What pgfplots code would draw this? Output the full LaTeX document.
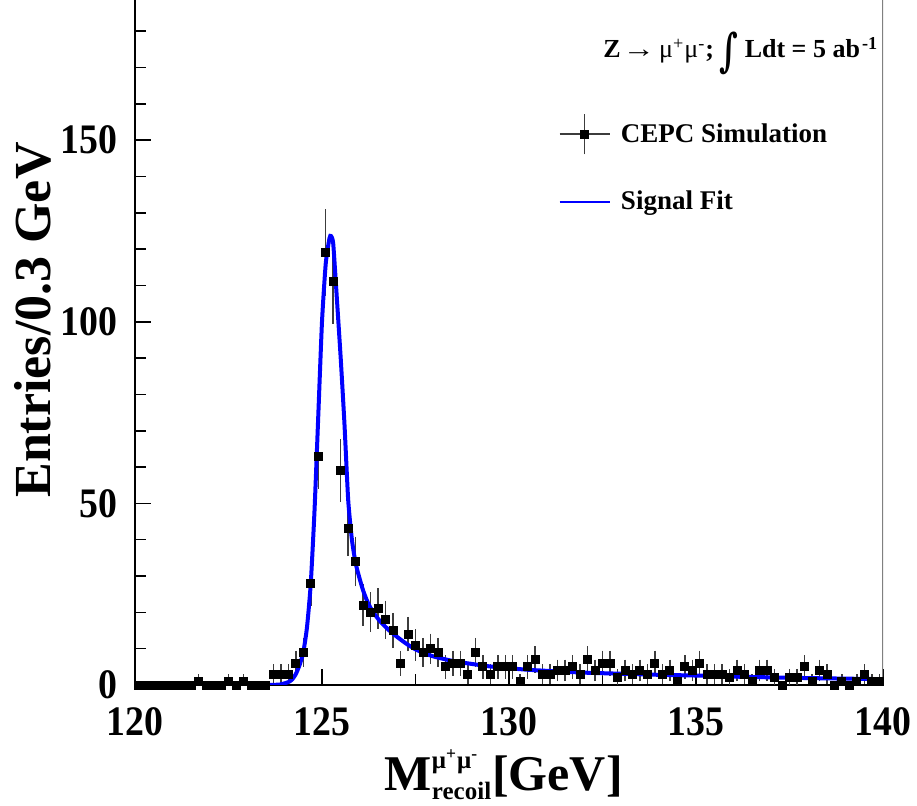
\documentclass[border=0pt]{standalone}
\usepackage{amsmath}
\usepackage{fontspec}
\setmainfont{Liberation Serif}
\newfontfamily\tickfont{Liberation Serif}[FakeStretch=0.9]
\newfontfamily\intfont{DejaVu Serif}
\usepackage{graphicx}
\usepackage{pgfplots}
\pgfplotsset{compat=1.18}
\usepackage{pgfplotstable}
\definecolor{errcol}{RGB}{60,60,60}
\definecolor{fitblue}{RGB}{0,0,255}

% 100 bins of 0.2 GeV: centre, entries, sqrt(entries)
\pgfplotstableread{
x y e
120.1 0 0
120.3 0 0
120.5 0 0
120.7 0 0
120.9 0 0
121.1 0 0
121.3 0 0
121.5 0 0
121.7 1 1
121.9 0 0
122.1 0 0
122.3 0 0
122.5 1 1
122.7 0 0
122.9 1 1
123.1 0 0
123.3 0 0
123.5 0 0
123.7 3 1.732
123.9 3 1.732
124.1 3 1.732
124.3 6 2.449
124.5 9 3
124.7 28 5.292
124.9 63 7.937
125.1 119 10.909
125.3 111 10.536
125.5 59 7.681
125.7 43 6.557
125.9 34 5.831
126.1 22 4.690
126.3 20 4.472
126.5 21 4.583
126.7 18 4.243
126.9 15 3.873
127.1 6 2.449
127.3 14 3.742
127.5 11 3.317
127.7 9 3
127.9 10 3.162
128.1 9 3
128.3 5 2.236
128.5 6 2.449
128.7 6 2.449
128.9 3 1.732
129.1 9 3
129.3 5 2.236
129.5 3 1.732
129.7 5 2.236
129.9 5 2.236
130.1 5 2.236
130.3 1 1
130.5 5 2.236
130.7 7 2.646
130.9 3 1.732
131.1 3 1.732
131.3 4 2
131.5 4 2
131.7 5 2.236
131.9 3 1.732
132.1 7 2.646
132.3 4 2
132.5 6 2.449
132.7 6 2.449
132.9 2 1.414
133.1 4 2
133.3 3 1.732
133.5 4 2
133.7 3 1.732
133.9 6 2.449
134.1 3 1.732
134.3 4 2
134.5 1 1
134.7 5 2.236
134.9 4 2
135.1 6 2.449
135.3 3 1.732
135.5 3 1.732
135.7 3 1.732
135.9 2 1.414
136.1 4 2
136.3 3 1.732
136.5 1 1
136.7 4 2
136.9 4 2
137.1 2 1.414
137.3 0 0
137.5 2 1.414
137.7 2 1.414
137.9 5 2.236
138.1 1 1
138.3 4 2
138.5 3 1.732
138.7 0 0
138.9 1 1
139.1 0 0
139.3 1 1
139.5 3 1.732
139.7 1 1
139.9 1 1
}\simdata

\pgfplotstableread{
x y
120.0 0.05
123.6 0.05
123.9 0.2
124.1 0.8
124.2 1.5
124.3 3
124.4 5.5
124.5 9
124.6 16
124.7 28
124.8 48
124.9 74
125.0 100
125.1 116
125.2 123
125.24 123.6
125.3 121.5
125.4 106
125.5 90
125.6 72
125.7 51
125.8 40
125.9 33.5
126.0 29.5
126.1 26
126.2 23.3
126.3 21.2
126.4 19.6
126.5 18.2
126.6 17.0
126.8 15.0
127.0 13.3
127.25 11.4
127.5 9.8
127.75 8.7
128.0 7.8
128.5 6.6
129.0 5.8
129.5 5.1
130.0 4.6
130.5 4.2
131.0 3.9
132.0 3.4
133.0 3.1
134.0 2.8
135.0 2.6
136.0 2.3
137.0 2.1
138.0 1.9
139.0 1.75
140.0 1.6
}\fitdata

\begin{document}
\begin{tikzpicture}
\begin{axis}[
  scale only axis,
  width=374pt, height=345.1pt,
  xmin=120, xmax=140, ymin=0, ymax=190,
  axis x line*=bottom, axis y line*=left,
  axis line style={line width=1pt, black},
  xtick={120,125,130,135,140},
  minor xtick={122.5,127.5,132.5,137.5},
  ytick={0,50,100,150},
  minor ytick={10,20,30,40,60,70,80,90,110,120,130,140,160,170,180},
  tick align=inside,
  major tick length=8pt, minor tick length=5.5pt,
  tick style={line width=0.8pt, black},
  /pgf/number format/assume math mode=true,
  ticklabel style={font=\tickfont\fontsize{21pt}{21pt}\selectfont\bfseries, inner sep=0pt},
  xticklabel style={anchor=north, yshift=-11pt},
  yticklabel style={anchor=east, xshift=-8.5pt},
  xlabel={M$^{\text{\fontsize{12.5pt}{12pt}\selectfont μ\textsuperscript{+}μ\textsuperscript{-}}}_{\text{\fontsize{12.5pt}{12pt}\selectfont recoil}}$[GeV]},
  ylabel={Entries/0.3 GeV},
  xlabel style={font=\fontsize{25pt}{25pt}\selectfont\bfseries, inner sep=0pt,
    at={(axis description cs:0.493,-0.1535)}, anchor=base},
  ylabel style={font=\fontsize{26pt}{26pt}\selectfont\bfseries, inner sep=0pt,
    at={(axis description cs:-0.113,0.5288)}, anchor=base},
  legend cell align=left,
  legend style={draw=none, fill=none, inner sep=0pt,
    at={(axis description cs:0.5655,0.8286)}, anchor=north west,
    font=\fontsize{13.5pt}{14pt}\selectfont\bfseries,
    nodes={inner sep=0pt},
    row sep=18pt,
    /tikz/every odd column/.append style={column sep=5pt}},
]
\addplot[only marks, mark=square*, mark size=2pt, black,
  legend image code/.code={
    \draw[errcol, line width=0.8pt] (0pt,0pt) -- (25pt,0pt);
    \draw[errcol, line width=0.8pt] (12.5pt,-10pt) -- (12.5pt,10pt);
    \fill[black] (10.5pt,-2pt) rectangle (14.5pt,2pt);},
  error bars/.cd, y dir=both, y explicit,
  error bar style={errcol, line width=0.75pt},
  error mark options={errcol, line width=0.75pt, mark size=1.8pt},
  ] table[x=x, y=y, y error=e] {\simdata};
\addlegendentry{CEPC Simulation}
\addplot[fitblue, line width=2pt, smooth, tension=0.35, no marks,
  legend image code/.code={
    \draw[fitblue, line width=1.3pt] (0pt,0pt) -- (25pt,0pt);},
  ] table[x=x, y=y] {\fitdata};
\addlegendentry{Signal Fit}
\draw[gray, line width=1pt] (rel axis cs:1,0) -- (rel axis cs:1,1);
\node[anchor=base west, inner sep=0pt, font=\fontsize{13pt}{13pt}\selectfont\bfseries]
  at (axis cs:132.51,172.6)
  {Z\kern1pt\scalebox{1.25}[1]{→}\kern2pt{\mdseries μ\textsuperscript{+}μ\textsuperscript{-}};\kern3pt\raisebox{-4.5pt}{\scalebox{1.25}[1.75]{\intfont\bfseries ∫}}\kern3pt Ldt = 5 ab\textsuperscript{\kern1pt-1}};
\end{axis}
\pgfresetboundingbox
\useasboundingbox (-67.5pt,-60.5pt) rectangle (391pt,342.5pt);
\end{tikzpicture}
\end{document}
